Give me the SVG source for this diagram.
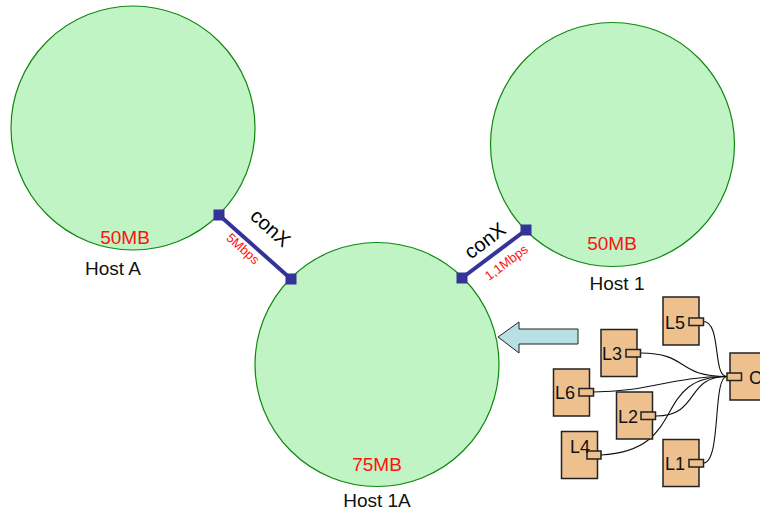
<svg xmlns="http://www.w3.org/2000/svg" width="760" height="516" viewBox="0 0 760 516">
  <style>
    .host { fill: #c0f4c4; stroke: #118811; stroke-width: 1.2; }
    .mem { font-family: "Liberation Sans", Arial, sans-serif; font-size: 19px; fill: #ff1111; text-anchor: middle; }
    .name { font-family: "Liberation Sans", Arial, sans-serif; font-size: 19px; fill: #111; text-anchor: middle; }
    .link { stroke: #333399; stroke-width: 4; fill: none; }
    .end { fill: #333399; }
    .conx { font-family: "Liberation Sans", Arial, sans-serif; font-size: 20px; fill: #000; text-anchor: middle; }
    .rate { font-family: "Liberation Sans", Arial, sans-serif; font-size: 13px; fill: #ff1111; text-anchor: middle; }
    .box { fill: #eec08e; stroke: #222; stroke-width: 1.5; }
    .port { fill: #eec08e; stroke: #222; stroke-width: 1.5; }
    .lbl { font-family: "Liberation Sans", Arial, sans-serif; font-size: 18px; fill: #111; }
    .wire { fill: none; stroke: #111; stroke-width: 1.1; }
  </style>

  <!-- hosts -->
  <g id="hostA">
    <circle class="host" cx="133" cy="128" r="122"/>
    <text class="mem" x="125" y="244">50MB</text>
    <text class="name" x="113" y="275">Host A</text>
  </g>
  <g id="host1">
    <circle class="host" cx="612.5" cy="144.5" r="122"/>
    <text class="mem" x="612" y="250">50MB</text>
    <text class="name" x="617" y="290">Host 1</text>
  </g>
  <g id="host1A">
    <circle class="host" cx="377" cy="364.5" r="122"/>
    <text class="mem" x="377" y="471">75MB</text>
    <text class="name" x="377" y="507">Host 1A</text>
  </g>

  <!-- links between hosts -->
  <g id="connectors">
    <line class="link" x1="219" y1="215" x2="291" y2="279"/>
    <rect class="end" x="213.5" y="209.5" width="11" height="11"/>
    <rect class="end" x="285.5" y="273.5" width="11" height="11"/>
    <text class="conx" transform="translate(266,233) rotate(41.6)">conX</text>
    <text class="rate" transform="translate(240,252) rotate(41.6)">5Mbps</text>

    <line class="link" x1="462" y1="278" x2="526" y2="230"/>
    <rect class="end" x="456.5" y="272.5" width="11" height="11"/>
    <rect class="end" x="520.5" y="224.5" width="11" height="11"/>
    <text class="conx" transform="translate(489,246) rotate(-36.9)">conX</text>
    <text class="rate" transform="translate(509,266) rotate(-36.9)">1,1Mbps</text>

    <!-- wires from components to C -->
    <path class="wire" d="M703,321.5 C722,321.5 712,376.5 727,376.5"/>
    <path class="wire" d="M640,353 C690,353 675,376.5 727,376.5"/>
    <path class="wire" d="M593,392 C650,392 670,376.5 727,376.5"/>
    <path class="wire" d="M656,416 C700,416 685,376.5 727,376.5"/>
    <path class="wire" d="M601,455 C690,450 650,376.5 727,376.5"/>
    <path class="wire" d="M703,463 C722,463 712,376.5 727,376.5"/>
  </g>

  <!-- migration arrow -->
  <g id="arrow">
    <polygon points="498,337 519,322 519,329 578,329 578,344 519,344 519,353" fill="#b8e0e4" stroke="#222" stroke-width="1"/>
  </g>

  <!-- components -->
  <g id="L5">
    <rect class="box" x="663" y="297" width="36" height="48"/>
    <rect class="port" x="689" y="318" width="14.5" height="7.5"/>
    <text class="lbl" x="665" y="329">L5</text>
  </g>
  <g id="L3">
    <rect class="box" x="601" y="329.5" width="36" height="47"/>
    <rect class="port" x="626" y="349.5" width="14.5" height="7.5"/>
    <text class="lbl" x="602" y="360">L3</text>
  </g>
  <g id="L6">
    <rect class="box" x="553.5" y="369" width="36" height="47"/>
    <rect class="port" x="579" y="388.5" width="14.5" height="7.5"/>
    <text class="lbl" x="555" y="399">L6</text>
  </g>
  <g id="L2">
    <rect class="box" x="616.5" y="392" width="36" height="47"/>
    <rect class="port" x="641" y="412" width="14.5" height="7.5"/>
    <text class="lbl" x="618" y="423">L2</text>
  </g>
  <g id="L4">
    <rect class="box" x="561.5" y="431.5" width="36" height="47"/>
    <rect class="port" x="587" y="451" width="14" height="8"/>
    <text class="lbl" x="570" y="453">L4</text>
  </g>
  <g id="L1">
    <rect class="box" x="663" y="439.5" width="36" height="47"/>
    <rect class="port" x="689" y="459.5" width="14.5" height="7.5"/>
    <text class="lbl" x="665" y="470">L1</text>
  </g>
  <g id="C">
    <rect class="box" x="730" y="353" width="36" height="47"/>
    <rect class="port" x="727" y="373" width="14.5" height="7.5"/>
    <text class="lbl" x="749" y="384">C</text>
  </g>
</svg>
